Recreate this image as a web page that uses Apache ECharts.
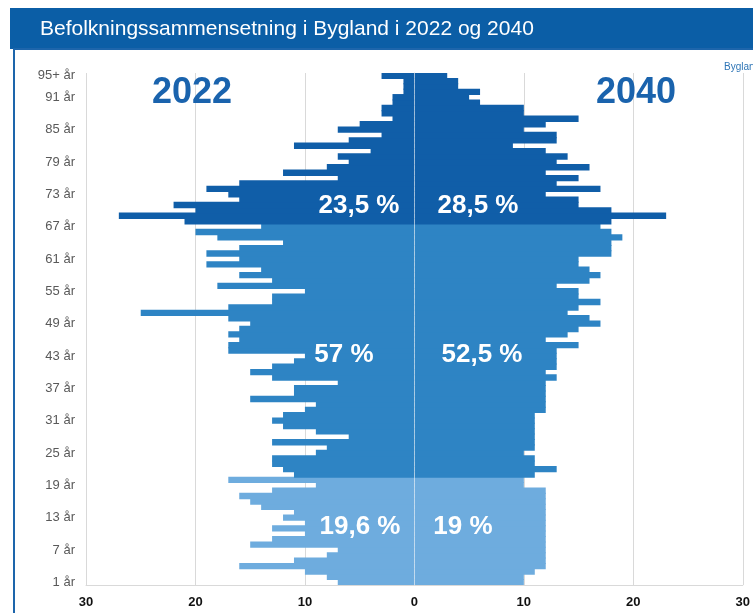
<!DOCTYPE html>
<html>
<head>
<meta charset="utf-8">
<script src="https://cdn.jsdelivr.net/npm/echarts@6/dist/echarts.min.js"></script>
<style>
  html, body { margin: 0; padding: 0; background: #fff; }
  #main { width: 753px; height: 613px; }
</style>
</head>
<body>
<div id="main"></div>
<script>
// alder 1 .. 95+, nederst til øverst
var ages = [];
for (var a = 1; a <= 94; a++) ages.push(a + ' år');
ages.push('95+ år');

// antall personer per alder, 2022 (venstre side)
var pop2022 = [
  7, 8, 10, 16, 11, 8, 7, 15, 13, 10,
  13, 10, 12, 11, 14, 15, 16, 13, 9, 17,
  11, 12, 13, 13, 9, 8, 13, 6, 9, 12,
  13, 12, 10, 9, 15, 11, 11, 7, 13, 15,
  13, 11, 10, 17, 17, 16, 17, 16, 15, 17,
  25, 17, 13, 13, 10, 18, 13, 16, 14, 19,
  16, 19, 16, 12, 18, 20, 14, 21, 27, 20,
  22, 16, 17, 19, 16, 7, 12, 8, 6, 7,
  4, 11, 6, 3, 7, 5, 2, 3, 3, 2,
  2, 1, 1, 1, 3
];

// framskrevet 2040 (høyre side)
var pop2040 = [
  10, 10, 11, 12, 12, 12, 12, 12, 12, 12,
  12, 12, 12, 12, 12, 12, 12, 12, 10, 10,
  11, 13, 11, 11, 10, 11, 11, 11, 11, 11,
  11, 11, 12, 12, 12, 12, 12, 12, 13, 12,
  13, 13, 13, 13, 15, 12, 14, 15, 17, 16,
  14, 15, 17, 15, 15, 13, 16, 17, 16, 15,
  15, 18, 18, 18, 19, 18, 17, 18, 23, 18,
  15, 15, 12, 17, 13, 15, 12, 16, 13, 14,
  12, 9, 13, 13, 10, 12, 15, 10, 10, 6,
  5, 6, 4, 4, 3
];

var xTicks = [-30, -20, -10, 0, 10, 20, 30];
var groupColors = ['#6eacde', '#2e84c4', '#105ea8']; // 0-20, 21-67, 68+
var shares2022 = ['19,6 %', '57 %', '23,5 %'];
var shares2040 = ['19 %', '52,5 %', '28,5 %'];

function groupOf(i) {
  var age = i + 1;
  if (age <= 20) return 0;
  if (age <= 67) return 1;
  return 2;
}

function toItems(arr, sign) {
  return arr.map(function (v, i) {
    return { value: sign * v, itemStyle: { color: groupColors[groupOf(i)] } };
  });
}

var chart = echarts.init(document.getElementById('main'));
var FONT = "'Liberation Sans', Arial, sans-serif";

function pctText(txt, x, y) {
  return {
    type: 'text', z: 100, silent: true,
    style: { text: txt, x: x, y: y, fill: '#fff', font: 'bold 26px ' + FONT,
      textAlign: 'center', textVerticalAlign: 'middle' }
  };
}

// litt bredere enn kategorien (ca 5.4px) så stolpene overlapper og ikke gir striper
var BAR_W = 6.4;

var option = {
  animation: false,
  backgroundColor: '#fff',
  grid: { left: 86, right: 7, top: 73, bottom: 28, containLabel: false },
  xAxis: {
    type: 'value',
    min: xTicks[0],
    max: xTicks[xTicks.length - 1],
    interval: 10,
    axisLine: { show: true, lineStyle: { color: '#d9d9d9' } },
    axisTick: { show: false },
    axisLabel: {
      color: '#111', fontSize: 13, fontWeight: 'bold', fontFamily: FONT, margin: 11,
      formatter: function (v) { return Math.abs(v); }
    },
    splitLine: { show: true, lineStyle: { color: '#d9d9d9', width: 1 } }
  },
  yAxis: {
    type: 'category',
    data: ages,
    axisLine: { show: true, lineStyle: { color: '#d9d9d9' } },
    axisTick: { show: false },
    axisLabel: {
      color: '#595959', fontSize: 13, fontFamily: FONT, margin: 11,
      interval: function (i) { return i % 6 === 0 || i === ages.length - 1; }
    }
  },
  series: [
    {
      name: '2022', type: 'bar', data: toItems(pop2022, -1),
      barWidth: BAR_W, barGap: '-100%'
    },
    {
      name: '2040', type: 'bar', data: toItems(pop2040, 1),
      barWidth: BAR_W, barGap: '-100%',
      markLine: {
        silent: true, symbol: 'none', label: { show: false },
        lineStyle: { color: 'rgba(255,255,255,0.5)', type: 'solid', width: 1 },
        data: [{ xAxis: 0 }]
      }
    }
  ],
  graphic: [
    { type: 'rect', z: -10, silent: true, shape: { x: 10, y: 8, width: 760, height: 41 },
      style: { fill: '#0b5ea6' } },
    { type: 'rect', z: -10, silent: true, shape: { x: 14, y: 49, width: 760, height: 600 },
      style: { fill: 'none', stroke: '#1d65ab', lineWidth: 2 } },
    { type: 'text', z: 100, silent: true,
      style: { text: 'Befolkningssammensetning i Bygland i 2022 og 2040', x: 40, y: 29,
        fill: '#fff', font: '21px ' + FONT, textVerticalAlign: 'middle' } },
    { type: 'text', z: 100, silent: true,
      style: { text: 'Bygland', x: 724, y: 67, fill: '#2e75b6', font: '10px ' + FONT,
        textVerticalAlign: 'middle' } },
    { type: 'text', z: 100, silent: true,
      style: { text: '2022', x: 192, y: 93, fill: '#1a63ad', font: 'bold 36px ' + FONT,
        textAlign: 'center', textVerticalAlign: 'middle' } },
    { type: 'text', z: 100, silent: true,
      style: { text: '2040', x: 636, y: 93, fill: '#1a63ad', font: 'bold 36px ' + FONT,
        textAlign: 'center', textVerticalAlign: 'middle' } },
    pctText(shares2022[2], 359, 206),
    pctText(shares2040[2], 478, 206),
    pctText(shares2022[1], 344, 355),
    pctText(shares2040[1], 482, 355),
    pctText(shares2022[0], 360, 527),
    pctText(shares2040[0], 463, 527)
  ]
};

chart.setOption(option);
</script>
</body>
</html>
